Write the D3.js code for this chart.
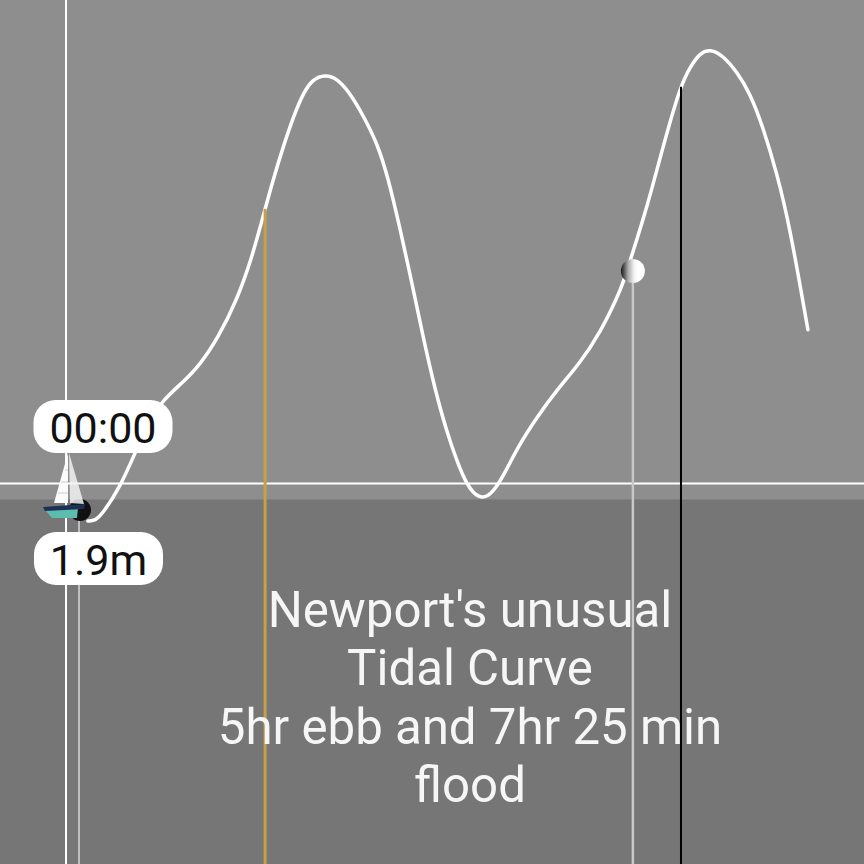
<!DOCTYPE html>
<html><head><meta charset="utf-8">
<script src="https://cdn.jsdelivr.net/npm/d3@7"></script>
<style>html,body{margin:0;padding:0;background:#8e8e8e}svg{display:block}text{font-family:Roboto,sans-serif}</style>
</head><body><script>
const hours=[0.28,0.51,0.76,1.30,1.77,2.24,2.65,3.29,3.82,4.39,4.99,5.47,5.81,6.13,6.45,6.76,7.08,7.39,7.77,8.15,8.56,8.97,9.42,9.76,10.14,10.52,10.87,11.25,11.63,12.04,12.35,12.73,13.08,13.46,13.87,14.47,15.10,15.83,16.46,17.00,17.19,17.47,17.95,18.45,18.99,19.31,19.62,19.94,20.35,20.79,21.20,21.61,22.05,22.46,23.03];
const heights=[1.62,1.62,1.82,2.49,3.36,4.21,4.72,5.18,5.62,6.31,7.28,8.39,9.41,10.36,11.21,11.95,12.59,12.95,13.06,12.97,12.59,12.03,11.31,10.44,9.13,7.72,6.34,4.98,3.87,2.93,2.41,2.16,2.34,2.85,3.52,4.28,4.98,5.67,6.44,7.34,7.72,8.44,9.67,11.21,12.75,13.26,13.62,13.72,13.55,13.13,12.59,11.72,10.54,9.16,6.52];
const titleLines=["Newport's unusual","Tidal Curve","5hr ebb and 7hr 25 min","flood"];
const timeLabel="00:00", heightLabel="1.9m";
const currentHour=0, currentHeight=1.9;
const goldHour=5.88, goldHeight=9.62;
const blackHour=19.02, blackHeight=12.75;
const ballHour=17.5, ballHeight=8.03;
const axisHour=-0.41;
const datumHeight=2.58, seaHeight=2.17;

const W=864,H=864;
const x=d3.scaleLinear().domain([0,24]).range([79,838.6]);
const y=d3.scaleLinear().domain([0,14]).range([584.1,38.1]);
const svg=d3.select("body").append("svg").attr("width",W).attr("height",H);
const defs=svg.append("defs");
const bg=defs.append("linearGradient").attr("id","ball").attr("x1",0).attr("x2",1).attr("y1",0).attr("y2",0);
[[0,"#1a1a1a"],[0.1,"#444"],[0.3,"#aaa"],[0.55,"#f2f2f2"],[0.7,"#fff"],[1,"#fff"]].forEach(s=>bg.append("stop").attr("offset",s[0]).attr("stop-color",s[1]));

svg.append("rect").attr("width",W).attr("height",H).attr("fill","#8e8e8e");
svg.append("rect").attr("y",y(seaHeight)).attr("width",W).attr("height",H-y(seaHeight)).attr("fill","#767676");

const vline=(h,top,c,w)=>svg.append("line").attr("x1",x(h)).attr("x2",x(h)).attr("y1",top).attr("y2",H).attr("stroke",c).attr("stroke-width",w);
vline(axisHour,0,"#fff",2);
vline(currentHour,y(currentHeight),"#c0c0c0",2);
svg.append("line").attr("x1",0).attr("x2",W).attr("y1",y(datumHeight)).attr("y2",y(datumHeight)).attr("stroke","#fff").attr("stroke-width",2);

const line=d3.line().x(d=>x(d[0])).y(d=>y(d[1])).curve(d3.curveBasis);
svg.append("path").datum(hours.map((h,i)=>[h,heights[i]])).attr("d",line).attr("fill","none").attr("stroke","#fff").attr("stroke-width",3.5).attr("stroke-linecap","round");

vline(ballHour,y(ballHeight),"#c8c8c8",2.5);
vline(goldHour,y(goldHeight),"#c9a048",3);
vline(blackHour,y(blackHeight),"#000",2);

svg.append("circle").attr("cx",x(ballHour)).attr("cy",y(ballHeight)).attr("r",12).attr("fill","url(#ball)");

// title
svg.append("g").selectAll("text").data(titleLines).join("text")
 .attr("x",470).attr("y",(d,i)=>627+i*58.3).attr("text-anchor","middle")
 .attr("font-size",49.2).attr("fill","#f6f6f6").text(d=>d);

// boat
const px=x(currentHour), py=y(currentHeight);
const b=svg.append("g").attr("transform",`translate(${px},${py})`);
b.append("circle").attr("cx",1).attr("cy",0).attr("r",11).attr("fill","#111");
b.append("path").attr("d","M-11,-57 L-25,-7 L-11,-7 Z").attr("fill","#fbfbfb");
b.append("path").attr("d","M-10,-57 L5,-6 L-9,-7 Z").attr("fill","#f2f2f2").attr("fill-opacity",0.85);
b.append("path").attr("d","M-14,-40 L-11,-40 M-18,-28 L-11,-28 M-21,-17 L-11,-17").attr("stroke","#ccc").attr("fill","none");
b.append("path").attr("d","M-34,0 L-1,-2 L-2,8 L-27,8 Z").attr("fill","#5cbcae");
b.append("path").attr("d","M-36,-3 L6,-6 L5,-1 L-34,1 Z").attr("fill","#1d2f55");

// labels
function pill(cx,cy,w,h,t){
 const g=svg.append("g");
 g.append("rect").attr("x",cx-w/2).attr("y",cy-h/2).attr("width",w).attr("height",h).attr("rx",h/2.4).attr("fill","#fff");
 g.append("text").attr("x",cx).attr("y",cy+16).attr("text-anchor","middle").attr("font-size",43).attr("fill","#111").text(t);
}
pill(103,426.5,139,53,timeLabel);
pill(98.5,558.5,129,53,heightLabel);
</script></body></html>
